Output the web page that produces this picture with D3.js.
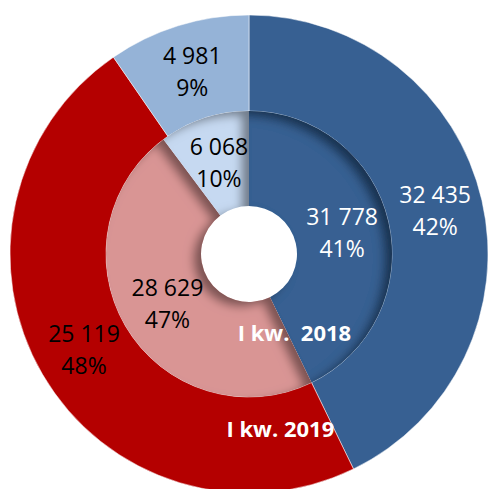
<!DOCTYPE html>
<html>
<head>
<meta charset="utf-8">
<script src="https://cdn.jsdelivr.net/npm/d3@7"></script>
<style>
  html, body { margin: 0; padding: 0; background: #fff; }
  svg { display: block; }
</style>
</head>
<body>
<div id="chart"></div>
<script>
// categories in drawing order, clockwise from 12 o'clock
const categories = ['A', 'B', 'C']

// outer ring: I kw. 2019
const outer_values = ['32 435', '25 119', '4 981']
const outer_pct = ['42%', '48%', '9%']
const outer_share = [42.8, 47.6, 9.6]

// inner ring: I kw. 2018
const inner_values = ['31 778', '28 629', '6 068']
const inner_pct = ['41%', '47%', '10%']
const inner_share = [42.8, 47.0, 10.2]

const series_names = ['I kw.  2018', 'I kw. 2019']

const outer_colors = ['#376092', '#b40000', '#95b3d7']
const inner_colors = ['#376092', '#d99594', '#c6d9f1']
const outer_text = ['#fff', '#000', '#000']
const inner_text = ['#fff', '#000', '#000']

const width = 488, height = 489
const cx = 249, cy = 254
const r_hole = 48, r_mid = 143, r_out = 239

const svg = d3.select('#chart').append('svg')
  .attr('width', width)
  .attr('height', height)

// inner shadow for the inner ring
const defs = svg.append('defs')
const f = defs.append('filter').attr('id', 'inset')
  .attr('x', '-20%').attr('y', '-20%').attr('width', '140%').attr('height', '140%')
f.append('feOffset').attr('in', 'SourceAlpha').attr('dx', -8).attr('dy', 5).attr('result', 'off')
f.append('feGaussianBlur').attr('in', 'off').attr('stdDeviation', 5).attr('result', 'blur')
f.append('feComposite').attr('in', 'SourceAlpha').attr('in2', 'blur').attr('operator', 'out').attr('result', 'edge')
f.append('feFlood').attr('flood-color', '#000').attr('flood-opacity', 0.7)
f.append('feComposite').attr('in2', 'edge').attr('operator', 'in').attr('result', 'shadow')
const merge = f.append('feMerge')
merge.append('feMergeNode').attr('in', 'SourceGraphic')
merge.append('feMergeNode').attr('in', 'shadow')

const g = svg.append('g').attr('transform', `translate(${cx},${cy})`)

const pie = d3.pie().sort(null).value(d => d)

const outerArc = d3.arc().innerRadius(r_mid).outerRadius(r_out)
const innerArc = d3.arc().innerRadius(r_hole).outerRadius(r_mid)

const outerData = pie(outer_share)
const innerData = pie(inner_share)

g.selectAll('path.outer')
  .data(outerData)
  .join('path')
  .attr('class', 'outer')
  .attr('d', outerArc)
  .attr('fill', (d, i) => outer_colors[i])
  .attr('stroke', '#fff')
  .attr('stroke-width', 0.5)

g.selectAll('path.inner')
  .data(innerData)
  .join('path')
  .attr('class', 'inner')
  .attr('d', innerArc)
  .attr('fill', (d, i) => inner_colors[i])
  .attr('filter', 'url(#inset)')

const font = '"Open Sans", sans-serif'

function addLabels(data, arc, values, pct, colors, cls) {
  const lab = g.selectAll('g.' + cls)
    .data(data)
    .join('g')
    .attr('class', cls)
    .attr('transform', d => `translate(${arc.centroid(d)})`)
  lab.append('text')
    .attr('text-anchor', 'middle')
    .attr('y', -8)
    .style('font-family', font)
    .style('font-size', '23px')
    .attr('fill', (d, i) => colors[i])
    .text((d, i) => values[i])
  lab.append('text')
    .attr('text-anchor', 'middle')
    .attr('y', 24)
    .style('font-family', font)
    .style('font-size', '23px')
    .attr('fill', (d, i) => colors[i])
    .text((d, i) => pct[i])
}

addLabels(outerData, outerArc, outer_values, outer_pct, outer_text, 'olab')
addLabels(innerData, innerArc, inner_values, inner_pct, inner_text, 'ilab')

// series names
const nameAngle = [152.4, 170.3]
const nameRadius = [98, 186]
series_names.forEach((s, i) => {
  const a = nameAngle[i] * Math.PI / 180
  g.append('text')
    .attr('x', nameRadius[i] * Math.sin(a))
    .attr('y', -nameRadius[i] * Math.cos(a))
    .attr('text-anchor', 'middle')
    .style('font-family', font)
    .style('font-size', '22px')
    .style('font-weight', 'bold')
    .style('white-space', 'pre')
    .attr('fill', '#fff')
    .text(s)
})
</script>
</body>
</html>
